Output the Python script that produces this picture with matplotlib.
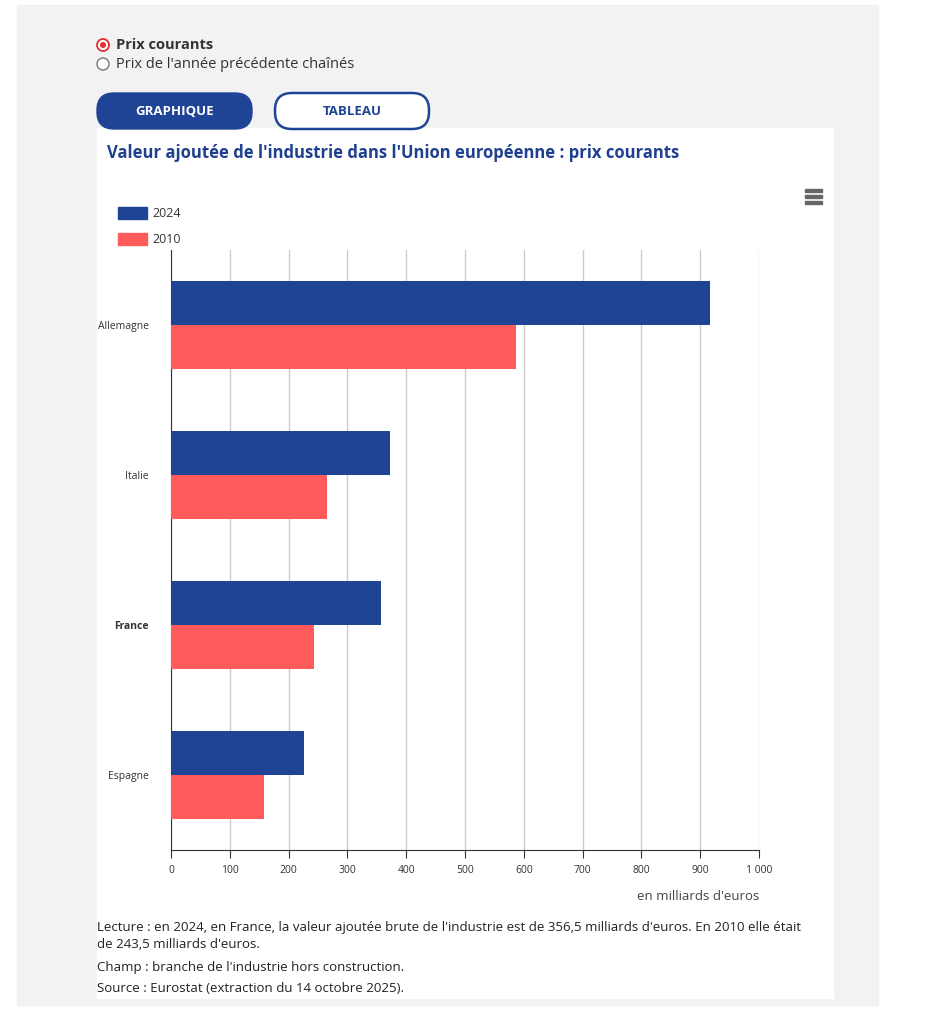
import matplotlib
matplotlib.use("Agg")
import matplotlib.pyplot as plt
from matplotlib.patches import FancyBboxPatch, Rectangle, Circle

categories = ["Allemagne", "Italie", "France", "Espagne"]
v2024 = [916, 372, 356.5, 226]
v2010 = [586, 265, 243.5, 158]
xticks = [0, 100, 200, 300, 400, 500, 600, 700, 800, 900, 1000]
xticklabels = ["0", "100", "200", "300", "400", "500", "600", "700", "800", "900", "1 000"]

BLUE = "#1f4496"
RED = "#ff5b5b"
TITLE = "#1f3f8f"
plt.rcParams['font.family'] = ['Open Sans', 'DejaVu Sans']

W, H = 945, 1018
fig = plt.figure(figsize=(W/100, H/100), dpi=100)
fig.patch.set_facecolor("white")

bg = fig.add_axes([0, 0, 1, 1], zorder=0)
bg.set_xlim(0, W); bg.set_ylim(H, 0); bg.axis("off")

bg.add_patch(Rectangle((17, 5), 878-17, 1000, color="#f2f2f2"))
bg.add_patch(Rectangle((97, 128), 833-97, 998-128, color="white"))

bg.add_patch(Circle((103, 45), 6, fc="white", ec="#e03030", lw=1.3))
bg.add_patch(Circle((103, 45), 3, fc="#e03030", ec="none"))
bg.add_patch(Circle((103, 64), 6, fc="white", ec="#777777", lw=1.0))
bg.text(116, 45, "Prix courants", fontsize=10.5, fontweight="bold", color="#333333", va="center")
bg.text(116, 64, "Prix de l'année précédente chaînés", fontsize=10.5, color="#333333", va="center")

bg.add_patch(FancyBboxPatch((97, 93), 155, 36, boxstyle="round,pad=0,rounding_size=17", fc=BLUE, ec=BLUE))
bg.text(175, 111, "GRAPHIQUE", fontsize=9.5, fontweight="bold", color="white", ha="center", va="center")
bg.add_patch(FancyBboxPatch((275, 93), 154, 36, boxstyle="round,pad=0,rounding_size=17", fc="white", ec=BLUE, lw=1.8))
bg.text(352, 111, "TABLEAU", fontsize=9.5, fontweight="bold", color=BLUE, ha="center", va="center")

bg.text(107, 153, "Valeur ajoutée de l'industrie dans l'Union européenne : prix courants",
        fontsize=12, fontweight="bold", color=TITLE, va="center")

for yy in (190, 196, 202):
    bg.add_patch(Rectangle((805, yy-1.5), 17, 3, color="#666666"))

bg.add_patch(Rectangle((118, 207), 29, 12, color=BLUE))
bg.text(152, 213, "2024", fontsize=9, color="#333333", va="center")
bg.add_patch(Rectangle((118, 233), 29, 12, color=RED))
bg.text(152, 239, "2010", fontsize=9, color="#333333", va="center")

bg.text(759, 896, "en milliards d'euros", fontsize=9.5, color="#444444", ha="right", va="center")
fs = 9.5
bg.text(97, 928, "Lecture : en 2024, en France, la valeur ajoutée brute de l'industrie est de 356,5 milliards d'euros. En 2010 elle était",
        fontsize=fs, color="#222222", va="center")
bg.text(97, 945, "de 243,5 milliards d'euros.", fontsize=fs, color="#222222", va="center")
bg.text(97, 967, "Champ : branche de l'industrie hors construction.", fontsize=fs, color="#222222", va="center")
bg.text(97, 989, "Source : Eurostat (extraction du 14 octobre 2025).", fontsize=fs, color="#222222", va="center")

ax = fig.add_axes([171/W, 1 - 850/H, (759-171)/W, 600/H], zorder=2)
ax.set_facecolor("white")
pos = list(range(len(categories)))
h = 0.29
ax.barh([p - h/2 - 0.003 for p in pos], v2024, height=h, color=BLUE, zorder=3)
ax.barh([p + h/2 + 0.003 for p in pos], v2010, height=h, color=RED, zorder=3)
ax.set_ylim(3.5, -0.5)
ax.set_xlim(0, 1000)
ax.set_xticks(xticks)
ax.set_xticklabels(xticklabels, fontsize=7.5, color="#333333")
ax.set_yticks(pos)
ax.set_yticklabels(categories, fontsize=7.5, color="#333333")
for lab in ax.get_yticklabels():
    if lab.get_text() == "France":
        lab.set_fontweight("bold")
ax.tick_params(axis="y", length=0, pad=16)
ax.tick_params(axis="x", length=6, color="#333333", pad=5)
ax.grid(axis="x", color="#cccccc", lw=1, zorder=0)
for s in ("top", "right"):
    ax.spines[s].set_visible(False)
ax.spines["left"].set_color("#333333")
ax.spines["bottom"].set_color("#333333")

fig.savefig("out.png", dpi=100)
